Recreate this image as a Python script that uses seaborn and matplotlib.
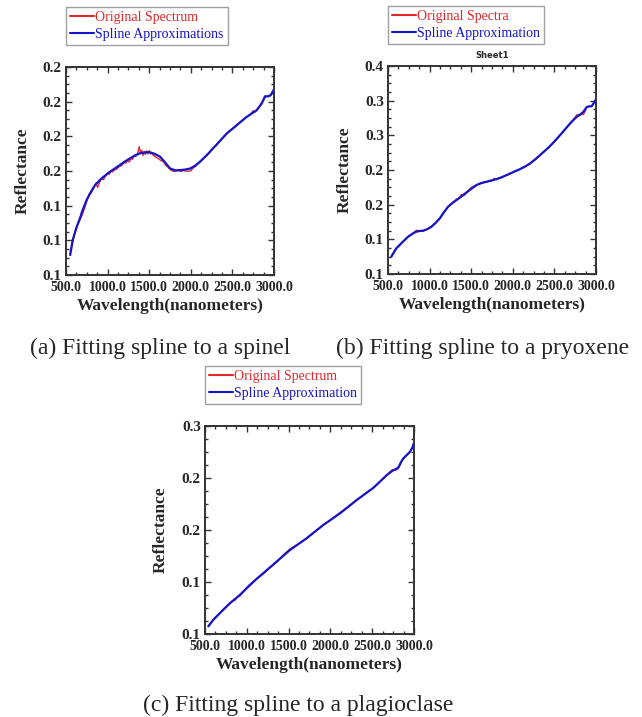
import numpy as np
import pandas as pd
import matplotlib
matplotlib.use("Agg")
import matplotlib.pyplot as plt
import seaborn as sns
from matplotlib.ticker import AutoMinorLocator

# ---- data ----
# (a) spinel
spinel_orig_wl = [550, 600, 650, 700, 750, 780, 800, 830, 860, 880, 900, 920, 950, 980, 1000,
                  1020, 1040, 1060, 1080, 1110, 1140, 1170, 1200, 1220, 1240, 1260, 1280, 1300,
                  1320, 1340, 1360, 1380, 1395, 1410, 1425, 1440, 1455, 1470, 1485, 1500, 1515,
                  1530, 1550, 1580, 1610, 1640, 1670, 1700, 1730, 1760, 1790, 1820, 1850, 1880,
                  1910, 1940, 1970, 2000, 2030, 2060, 2100, 2150, 2200, 2250, 2300, 2350, 2400,
                  2450, 2500, 2550, 2600, 2650, 2700, 2730, 2750, 2770, 2790, 2810, 2840, 2870,
                  2900, 2930, 2960, 3000]
spinel_orig = [0.1118, 0.1235, 0.1300, 0.1352, 0.1425, 0.1468, 0.1470, 0.1500, 0.1530, 0.1505,
               0.1530, 0.1555, 0.1550, 0.1575, 0.1590, 0.1580, 0.1600, 0.1595, 0.1605, 0.1612,
               0.1625, 0.1632, 0.1650, 0.1645, 0.1660, 0.1652, 0.1670, 0.1668, 0.1690, 0.1685,
               0.1700, 0.1740, 0.1705, 0.1720, 0.1690, 0.1712, 0.1695, 0.1715, 0.1700, 0.1718,
               0.1698, 0.1705, 0.1690, 0.1680, 0.1672, 0.1660, 0.1655, 0.1632, 0.1620, 0.1605,
               0.1598, 0.1600, 0.1603, 0.1598, 0.1603, 0.1600, 0.1598, 0.1602, 0.1618, 0.1628,
               0.1650, 0.1672, 0.1692, 0.1725, 0.1745, 0.1772, 0.1800, 0.1825, 0.1843, 0.1862,
               0.1885, 0.1905, 0.1920, 0.1935, 0.1948, 0.1940, 0.1950, 0.1962, 0.1985, 0.2010,
               0.2030, 0.2032, 0.2040, 0.2072]
spinel_fit_wl = [550, 580, 628, 668, 700, 748, 800, 849, 929, 1029, 1089, 1149, 1209, 1269,
                 1330, 1389, 1450, 1510, 1570, 1630, 1690, 1750, 1810, 1870, 1930, 1990, 2050,
                 2110, 2211, 2311, 2431, 2551, 2671, 2792, 2852, 2892, 2932, 2960, 3000]
spinel_fit = [0.1115, 0.1200, 0.1278, 0.1327, 0.1375, 0.1433, 0.1480, 0.1519, 0.1558, 0.1596,
              0.1615, 0.1635, 0.1655, 0.1673, 0.1690, 0.1702, 0.1708, 0.1708, 0.1698, 0.1683,
              0.1650, 0.1615, 0.1604, 0.1605, 0.1608, 0.1614, 0.1630, 0.1653, 0.1701, 0.1753,
              0.1816, 0.1864, 0.1912, 0.1951, 0.1989, 0.2031, 0.2031, 0.2037, 0.2071]
spinel_yticks = [0.10, 0.12, 0.14, 0.16, 0.18, 0.20, 0.22]
spinel_ylabels = ["0.1", "0.1", "0.1", "0.2", "0.2", "0.2", "0.2"]

# (b) pyroxene
pyx_wl = [540, 600, 670, 741, 800, 841, 881, 921, 970, 1022, 1070, 1122, 1172, 1222, 1270,
          1323, 1353, 1383, 1413, 1443, 1473, 1503, 1563, 1624, 1684, 1744, 1774, 1804, 1865,
          1925, 2005, 2085, 2150, 2206, 2266, 2326, 2386, 2446, 2507, 2567, 2627, 2687, 2727,
          2767, 2788, 2808, 2828, 2848, 2868, 2888, 2920, 2948, 2975, 3000]
pyx_orig = [0.1255, 0.1372, 0.1455, 0.1536, 0.1588, 0.1630, 0.1622, 0.1618, 0.1645, 0.1685,
            0.1735, 0.1800, 0.1895, 0.1968, 0.2022, 0.2080, 0.2090, 0.2150, 0.2130, 0.2168,
            0.2215, 0.2250, 0.2285, 0.2318, 0.2332, 0.2340, 0.2375, 0.2372, 0.2395, 0.2424,
            0.2468, 0.2510, 0.2552, 0.2590, 0.2650, 0.2712, 0.2778, 0.2846, 0.2918, 0.3000,
            0.3085, 0.3168, 0.3225, 0.3292, 0.3300, 0.3285, 0.3310, 0.3300, 0.3345, 0.3402,
            0.3418, 0.3422, 0.3470, 0.3525]
pyx_fit = [0.1250, 0.1370, 0.1455, 0.1538, 0.1585, 0.1610, 0.1620, 0.1624, 0.1645, 0.1682,
           0.1735, 0.1802, 0.1890, 0.1970, 0.2020, 0.2066, 0.2093, 0.2120, 0.2148, 0.2176,
           0.2203, 0.2230, 0.2282, 0.2312, 0.2330, 0.2350, 0.2359, 0.2368, 0.2395, 0.2426,
           0.2470, 0.2512, 0.2552, 0.2594, 0.2650, 0.2714, 0.2778, 0.2844, 0.2920, 0.3002,
           0.3085, 0.3170, 0.3220, 0.3266, 0.3283, 0.3300, 0.3319, 0.3338, 0.3374, 0.3410,
           0.3418, 0.3420, 0.3470, 0.3520]
pyx_yticks = [0.10, 0.15, 0.20, 0.25, 0.30, 0.35, 0.40]
pyx_ylabels = ["0.1", "0.1", "0.2", "0.2", "0.3", "0.3", "0.4"]

# (c) plagioclase
plag_wl = [540, 600, 679, 740, 799, 830, 860, 890, 919, 980, 1038, 1118, 1198, 1278, 1357,
           1437, 1517, 1616, 1716, 1815, 1915, 2015, 2115, 2215, 2314, 2414, 2514, 2594,
           2673, 2743, 2780, 2813, 2850, 2872, 2912, 2952, 2980, 3000]
plag_orig = [0.1075, 0.1138, 0.1200, 0.1252, 0.1290, 0.1318, 0.1325, 0.1358, 0.1365, 0.1428,
             0.1462, 0.1532, 0.1578, 0.1642, 0.1690, 0.1760, 0.1818, 0.1866, 0.1922, 0.1985,
             0.2046, 0.2105, 0.2168, 0.2225, 0.2286, 0.2348, 0.2404, 0.2466, 0.2528, 0.2582,
             0.2575, 0.2592, 0.2655, 0.2688, 0.2720, 0.2752, 0.2790, 0.2838]
plag_fit = [0.1073, 0.1137, 0.1201, 0.1250, 0.1297, 0.1317, 0.1337, 0.1357, 0.1377, 0.1425,
            0.1473, 0.1530, 0.1585, 0.1640, 0.1696, 0.1752, 0.1808, 0.1864, 0.1920, 0.1984,
            0.2048, 0.2104, 0.2160, 0.2224, 0.2288, 0.2347, 0.2406, 0.2466, 0.2527, 0.2570,
            0.2585, 0.2601, 0.2660, 0.2687, 0.2720, 0.2751, 0.2790, 0.2837]
plag_yticks = [0.10, 0.15, 0.20, 0.25, 0.30]
plag_ylabels = ["0.1", "0.1", "0.2", "0.2", "0.3"]

xticks = [500, 1000, 1500, 2000, 2500, 3000]
xlabels = ["500.0", "1000.0", "1500.0", "2000.0", "2500.0", "3000.0"]

RED = "#e0282a"
BLUE = "#1414c8"

sns.set_style("ticks")
plt.rcParams["font.family"] = ["Liberation Serif", "DejaVu Serif"]


def draw_panel(ax, orig_wl, orig, fit_wl, fit, yticks, ylabels, names):
    sns.lineplot(x=orig_wl, y=orig, ax=ax, color=RED, lw=1.0, label=names[0],
                 estimator=None, sort=False)
    sns.lineplot(x=fit_wl, y=fit, ax=ax, color=BLUE, lw=1.6, label=names[1],
                 estimator=None, sort=False)
    ax.set_xlim(500, 3000)
    ax.set_ylim(yticks[0], yticks[-1])
    ax.set_xticks(xticks)
    ax.set_xticklabels(xlabels, fontsize=10, fontweight="bold")
    ax.set_yticks(yticks)
    ax.set_yticklabels(ylabels, fontsize=11, fontweight="bold")
    ax.xaxis.set_minor_locator(AutoMinorLocator(4))
    ax.yaxis.set_minor_locator(AutoMinorLocator(4))
    ax.tick_params(which="both", direction="in", top=True, right=True,
                   color="#333333", width=1.0)
    ax.tick_params(axis="x", pad=4)
    ax.tick_params(axis="y", pad=3)
    ax.tick_params(which="major", length=4.5)
    ax.tick_params(which="minor", length=2.5)
    for s in ax.spines.values():
        s.set_linewidth(1.4)
        s.set_color("#333333")
    ax.set_xlabel("Wavelength(nanometers)", fontsize=12.5, fontweight="bold", labelpad=3)
    ax.set_ylabel("Reflectance", fontsize=12.5, fontweight="bold", labelpad=9)
    leg = ax.legend(loc="lower left", bbox_to_anchor=(0.0, 1.105), frameon=True,
                    fancybox=False, fontsize=10, handlelength=1.7, handletextpad=0.1,
                    borderpad=0.3, labelspacing=0.3, borderaxespad=0.0)
    leg.get_frame().set_edgecolor("#888888")
    leg.get_frame().set_linewidth(1.0)
    for line in leg.get_lines():
        line.set_linewidth(1.5)
    for txt, col in zip(leg.get_texts(), [RED, BLUE]):
        txt.set_color(col)


fig = plt.figure(figsize=(6.42, 7.17), dpi=100)
ax_a = fig.add_axes([0.1028, 0.6165, 0.324, 0.290])
ax_b = fig.add_axes([0.6044, 0.6179, 0.324, 0.290])
ax_c = fig.add_axes([0.3193, 0.1158, 0.3255, 0.290])

draw_panel(ax_a, spinel_orig_wl, spinel_orig, spinel_fit_wl, spinel_fit,
           spinel_yticks, spinel_ylabels,
           ["Original Spectrum", "Spline Approximations"])
draw_panel(ax_b, pyx_wl, pyx_orig, pyx_wl, pyx_fit, pyx_yticks, pyx_ylabels,
           ["Original Spectra", "Spline Approximation"])
draw_panel(ax_c, plag_wl, plag_orig, plag_wl, plag_fit, plag_yticks, plag_ylabels,
           ["Original Spectrum", "Spline Approximation"])

ax_b.set_title("Sheet1", fontsize=6, fontweight="bold", family="DejaVu Sans", pad=6)

# sub-figure captions
fig.text(160 / 642, 1 - 348 / 717, "(a) Fitting spline to a spinel",
         ha="center", va="center", fontsize=17)
fig.text(483 / 642, 1 - 348 / 717, "(b) Fitting spline to a pryoxene",
         ha="center", va="center", fontsize=17)
fig.text(298 / 642, 1 - 705 / 717, "(c) Fitting spline to a plagioclase",
         ha="center", va="center", fontsize=17)

fig.savefig("out.png", dpi=100)
